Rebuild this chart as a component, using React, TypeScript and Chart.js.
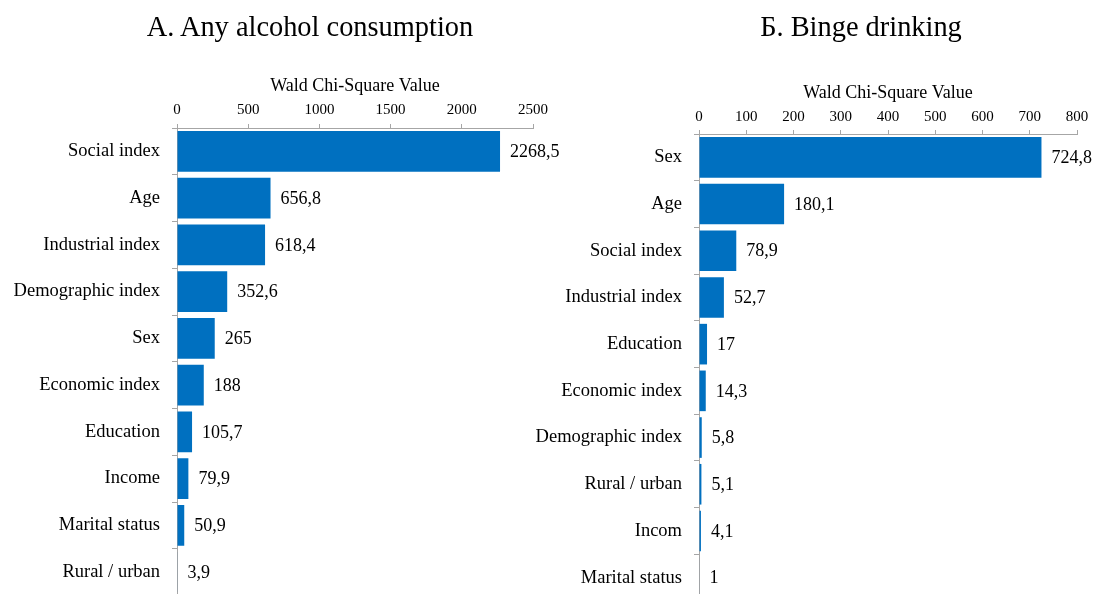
import React, { useEffect, useRef } from "react";
import { Chart, registerables } from "chart.js";
Chart.register(...registerables);

const titleA = "A. Any alcohol consumption";
const categoriesA = ["Social index", "Age", "Industrial index", "Demographic index", "Sex", "Economic index", "Education", "Income", "Marital status", "Rural / urban"];
const valuesA = [2268.5, 656.8, 618.4, 352.6, 265, 188, 105.7, 79.9, 50.9, 3.9];
const ticksA = [0, 500, 1000, 1500, 2000, 2500];

const titleB = "Б. Binge drinking";
const categoriesB = ["Sex", "Age", "Social index", "Industrial index", "Education", "Economic index", "Demographic index", "Rural / urban", "Incom", "Marital status"];
const valuesB = [724.8, 180.1, 78.9, 52.7, 17, 14.3, 5.8, 5.1, 4.1, 1];
const ticksB = [0, 100, 200, 300, 400, 500, 600, 700, 800];

const axisTitle = "Wald Chi-Square Value";
const FONT = "'Liberation Serif', 'Times New Roman', serif";
const BAR = "#0070C0";
const AXIS = "#A6A6A6";

const fmt = (v: number) => String(v).replace(".", ",");

const valueLabels = {
  id: "valueLabels",
  afterDatasetsDraw(chart: any) {
    const ctx = chart.ctx;
    const meta = chart.getDatasetMeta(0);
    const data = chart.data.datasets[0].data as number[];
    ctx.save();
    ctx.font = `18px ${FONT}`;
    ctx.fillStyle = "#000";
    ctx.textAlign = "left";
    ctx.textBaseline = "middle";
    meta.data.forEach((bar: any, i: number) => {
      ctx.fillText(fmt(data[i]), bar.x + 10, bar.y + 1);
    });
    ctx.restore();
  },
};

type PanelProps = {
  categories: string[];
  values: number[];
  ticks: number[];
  left: number;
  width: number;
  height: number;
  yWidth: number;
  padTop: number;
  xHeight: number;
  tickPad: number;
  padRight: number;
  padBottom: number;
};

function Panel(p: PanelProps) {
  const ref = useRef<HTMLCanvasElement | null>(null);
  useEffect(() => {
    if (!ref.current) return;
    const chart = new Chart(ref.current, {
      type: "bar",
      data: {
        labels: p.categories,
        datasets: [
          {
            data: p.values,
            backgroundColor: BAR,
            borderWidth: 0,
            barPercentage: 0.87,
            categoryPercentage: 1,
          },
        ],
      },
      options: {
        indexAxis: "y",
        animation: false,
        responsive: false,
        maintainAspectRatio: false,
        layout: { padding: { top: p.padTop, right: p.padRight, bottom: p.padBottom, left: 0 } },
        plugins: { legend: { display: false }, tooltip: { enabled: false }, title: { display: false } },
        scales: {
          x: {
            type: "linear",
            position: "top",
            min: p.ticks[0],
            max: p.ticks[p.ticks.length - 1],
            ticks: {
              stepSize: p.ticks[1] - p.ticks[0],
              color: "#000",
              font: { family: FONT, size: 15 },
              padding: p.tickPad,
              maxRotation: 0,
              callback: (v: any) => String(v),
            },
            grid: { drawOnChartArea: false, drawTicks: true, tickLength: 4, color: AXIS },
            border: { display: true, color: AXIS, width: 1 },
            title: {
              display: true,
              text: axisTitle,
              color: "#000",
              font: { family: FONT, size: 18 },
              padding: { top: 0, bottom: 0 },
            },
            afterFit: (s: any) => {
              s.height = p.xHeight;
            },
          },
          y: {
            type: "category",
            ticks: { color: "#000", font: { family: FONT, size: 18.5 }, padding: 12, autoSkip: false },
            grid: { drawOnChartArea: false, drawTicks: true, tickLength: 5, color: AXIS, offset: true },
            border: { display: true, color: AXIS, width: 1 },
            afterFit: (s: any) => {
              s.width = p.yWidth;
              s.paddingTop = 0;
              s.paddingBottom = 0;
            },
          },
        },
      },
      plugins: [valueLabels],
    });
    return () => chart.destroy();
  }, []);
  return (
    <canvas
      ref={ref}
      width={p.width}
      height={p.height}
      style={{ position: "absolute", left: p.left, top: 0, width: p.width, height: p.height }}
    />
  );
}

const titleStyle = (cx: number): React.CSSProperties => ({
  position: "absolute",
  left: cx - 250,
  width: 500,
  top: 9,
  textAlign: "center",
  fontFamily: FONT,
  fontSize: 28.4,
  lineHeight: "36px",
  color: "#000",
  whiteSpace: "nowrap",
});

export default function App() {
  return (
    <div style={{ position: "fixed", left: 0, top: 0, width: 1099, height: 594, overflow: "hidden", background: "#fff" }}>
      <Panel
        categories={categoriesA}
        values={valuesA}
        ticks={ticksA}
        left={0}
        width={600}
        height={600}
        yWidth={177}
        padTop={75}
        xHeight={53}
        tickPad={5}
        padRight={67}
        padBottom={4.5}
      />
      <Panel
        categories={categoriesB}
        values={valuesB}
        ticks={ticksB}
        left={500}
        width={599}
        height={602}
        yWidth={199}
        padTop={82}
        xHeight={52}
        tickPad={4}
        padRight={22}
        padBottom={1}
      />
      <div style={titleStyle(310)}>{titleA}</div>
      <div style={titleStyle(861)}>{titleB}</div>
    </div>
  );
}
